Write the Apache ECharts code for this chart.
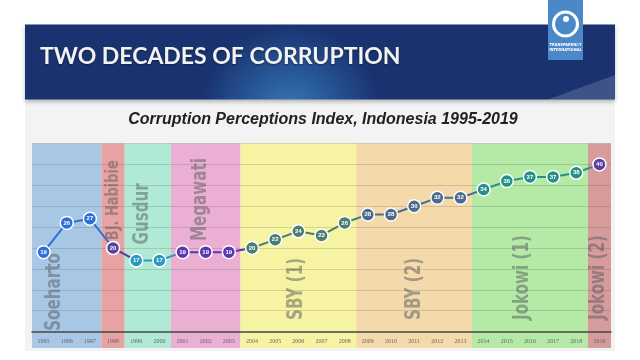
<!DOCTYPE html>
<html><head><meta charset="utf-8">
<script src="https://cdn.jsdelivr.net/npm/echarts@6/dist/echarts.min.js"></script>
<style>html,body{margin:0;padding:0;background:#fff}#c{width:640px;height:360px}</style>
</head><body><div id="c"></div>
<script>
const years = ['1995','1996','1997','1998','1999','2000','2001','2002','2003','2004','2005','2006','2007','2008','2009','2010','2011','2012','2013','2014','2015','2016','2017','2018','2019'];
const cpi = [19,26,27,20,17,17,19,19,19,20,22,24,23,26,28,28,30,32,32,34,36,37,37,38,40];
const eras = ['Soeharto','BJ. Habibie','Gusdur','Megawati','SBY (1)','SBY (2)','Jokowi (1)','Jokowi (2)'];
const eraStart = ['1995','1998','1999','2001','2004','2009','2014','2019'];
const eraEnd = ['1997','1998','2000','2003','2008','2013','2018','2019'];
const yTicks = [0,5,10,15,20,25,30,35,40,45];
const chartTitle = 'Corruption Perceptions Index, Indonesia 1995-2019';
const slideTitle = 'TWO DECADES OF CORRUPTION';

// styles
const bandColors = ['#a7c7e5','#e9a2a2','#b0ead5','#ebafd3','#f6f3a3','#f4d9aa','#b4e9a6','#d69b9b'];
const pointColors = ['#2e6fd8','#5a3ea6','#2999c4','#5b37b0','#4c7d74','#4d6b8f','#24908a','#5a3ea6'];
const labelAnchor = [[0.2,'left',-12,21],[41,'right',0,18],[35.5,'right',-5,21],[41.5,'right',-5,21],[2.8,'left',-2,21],[2.8,'left',0,21],[2.8,'left',-7,21],[2.8,'left',-1,21]];
const condFont = '"DejaVu Sans Condensed","Liberation Sans Narrow","Roboto Condensed",sans-serif';

const bandData = eras.map((e,i)=>[years.indexOf(eraStart[i]), years.indexOf(eraEnd[i]), i]);

const chart = echarts.init(document.getElementById('c'));
chart.setOption({
  animation:false,
  backgroundColor:'#ffffff',
  title:{text:chartTitle,left:318,top:107,textAlign:'center',
    textStyle:{fontFamily:'Liberation Sans',fontStyle:'italic',fontWeight:'bold',fontSize:16,color:'#222'}},
  graphic:[
    {type:'rect',z:-100,shape:{x:25,y:99,width:590,height:252},style:{fill:'#f3f3f3'}},
    {type:'rect',z:-90,shape:{x:25,y:24.5,width:590,height:75},
      style:{fill:{type:'radial',x:0.45,y:1.2,r:1.2,colorStops:[{offset:0,color:'#3a7cb2'},{offset:0.45,color:'#28599a'},{offset:1,color:'#1a3370'}]},
      shadowColor:'rgba(0,0,0,0.25)',shadowBlur:4,shadowOffsetY:2}},
    {type:'polygon',z:-89,shape:{points:[[548,99.5],[615,75],[615,99.5]]},style:{fill:'rgba(255,255,255,0.16)'}},
    {type:'text',z:-80,x:40,y:57,style:{text:slideTitle,fill:'#f2f2f2',font:'bold 23px Lato, sans-serif',textVerticalAlign:'middle',
      textShadowColor:'rgba(0,0,0,0.4)',textShadowBlur:2,textShadowOffsetY:1}},
    {type:'rect',z:-70,shape:{x:548,y:0,width:35,height:60},style:{fill:'#4a88c7'}},
    {type:'circle',z:-69,shape:{cx:565.5,cy:24,r:12},style:{fill:'none',stroke:'#fff',lineWidth:3}},
    {type:'circle',z:-69,shape:{cx:566,cy:19,r:3},style:{fill:'#fff'}},
    {type:'text',z:-69,x:565.5,y:45,style:{text:'TRANSPARENCY',fill:'#fff',font:'bold 4px ' + condFont,textAlign:'center',textVerticalAlign:'middle'}},
    {type:'text',z:-69,x:565.5,y:50,style:{text:'INTERNATIONAL',fill:'#fff',font:'bold 4px ' + condFont,textAlign:'center',textVerticalAlign:'middle'}}
  ],
  grid:{left:32,right:29,top:143.5,bottom:28.4},
  xAxis:{type:'category',data:years,boundaryGap:true,
    axisLine:{lineStyle:{color:'#4a4a4a',width:1.5}},axisTick:{show:false},
    axisLabel:{fontSize:6,color:'#666',margin:7,fontFamily:'Liberation Serif'}},
  yAxis:{type:'value',min:yTicks[0],max:yTicks[yTicks.length-1],interval:yTicks[1]-yTicks[0],
    axisLabel:{show:false},axisLine:{show:false},axisTick:{show:false},
    splitLine:{lineStyle:{color:'rgba(60,60,60,0.18)',width:1}}},
  visualMap:{show:false,type:'piecewise',dimension:0,seriesIndex:1,
    pieces:bandData.map(b=>({gt:b[0]-0.5,lte:b[1]+0.5,color:pointColors[b[2]]}))},
  series:[
    {type:'custom',z:-1,silent:true,data:bandData,encode:{x:[0,1]},clip:false,
      renderItem:function(params,api){
        const s=api.value(0),e=api.value(1),i=api.value(2);
        const bw=api.size([1,0])[0];
        const top=api.coord([s,yTicks[yTicks.length-1]])[1];
        const bot=api.coord([s,0])[1]+16.5;
        const x0=api.coord([s,0])[0]-bw/2, x1=api.coord([e,0])[0]+bw/2;
        const la=labelAnchor[i];
        const ly=api.coord([s,la[0]])[1];
        return {type:'group',children:[
          {type:'rect',shape:{x:x0,y:top,width:x1-x0,height:bot-top},style:{fill:bandColors[i]}},
          {type:'text',x:(x0+x1)/2+la[2],y:ly,rotation:Math.PI/2,scaleX:0.8,scaleY:1,
            style:{text:eras[i],fill:'rgba(85,90,95,0.5)',font:'bold '+la[3]+'px ' + condFont,textAlign:la[1],textVerticalAlign:'middle'}}
        ]};
      }},
    {type:'line',data:cpi,symbol:'circle',symbolSize:13,z:5,
      lineStyle:{width:2},
      itemStyle:{borderColor:'#fff',borderWidth:1.5},
      label:{show:true,position:'inside',color:'#fff',fontSize:6,fontWeight:'bold'}}
  ]
});
</script></body></html>
